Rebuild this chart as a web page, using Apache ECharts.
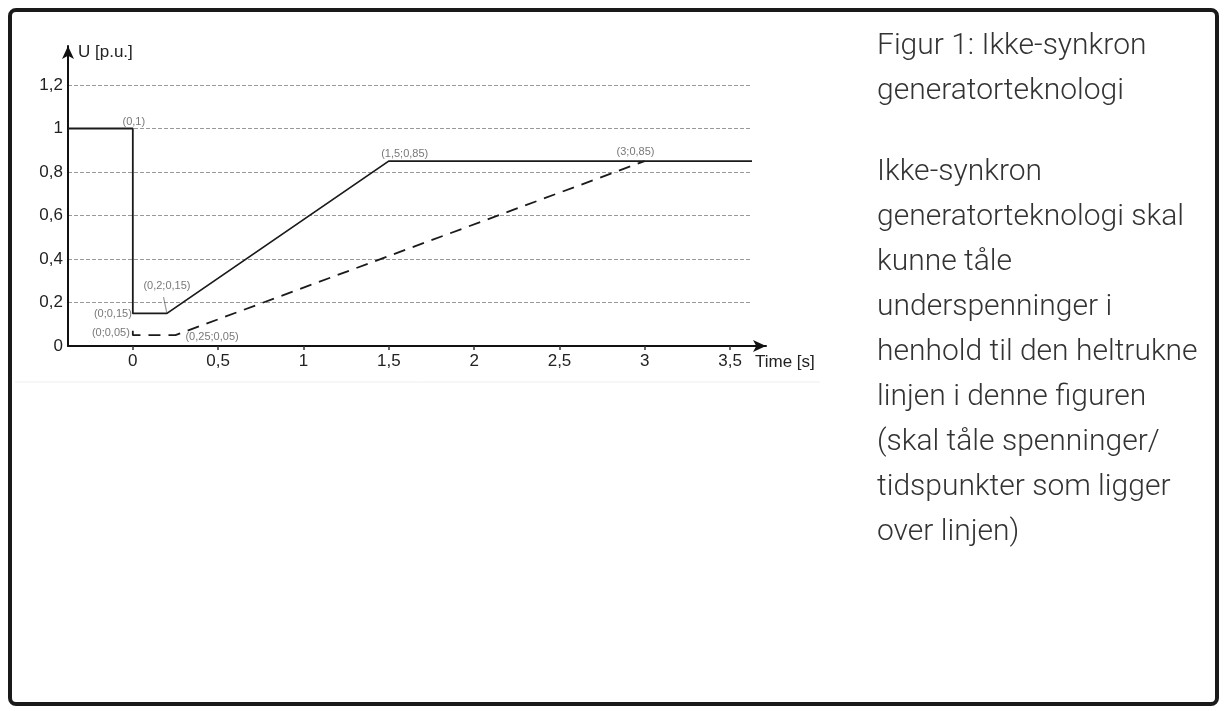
<!DOCTYPE html>
<html>
<head>
<meta charset="utf-8">
<script src="https://cdn.jsdelivr.net/npm/echarts@6/dist/echarts.min.js"></script>
<style>
  html, body { margin: 0; padding: 0; background: #fff; }
  #chart { width: 1224px; height: 711px; }
</style>
</head>
<body>
<div id="chart"></div>
<script>
// tick labels
const xTicks = [0, 0.5, 1, 1.5, 2, 2.5, 3, 3.5]
const yTicks = [0, 0.2, 0.4, 0.6, 0.8, 1, 1.2]

// solid curve (must tolerate) and dashed curve
const solidX = [-0.38, 0, 0, 0.2, 1.5, 3.63]
const solidY = [1, 1, 0.15, 0.15, 0.85, 0.85]
const dashX = [0, 0, 0.25, 3]
const dashY = [0.07, 0.05, 0.05, 0.85]

// point annotations
const noteX = [0, 1.5, 3, 0.2, 0, 0, 0.25]
const noteY = [1, 0.85, 0.85, 0.15, 0.15, 0.05, 0.05]
const noteText = ['(0,1)', '(1,5;0,85)', '(3;0,85)', '(0,2;0,15)', '(0;0,15)', '(0;0,05)', '(0,25;0,05)']

const titleLines = ['Figur 1: Ikke-synkron', 'generatorteknologi']
const bodyLines = [
  'Ikke-synkron',
  'generatorteknologi skal',
  'kunne tåle',
  'underspenninger i',
  'henhold til den heltrukne',
  'linjen i denne figuren',
  '(skal tåle spenninger/',
  'tidspunkter som ligger',
  'over linjen)'
]

const fmt = (v) => String(v).replace('.', ',')
const zip = (xs, ys) => xs.map((x, i) => [x, ys[i]])

// label placement for each annotation
const notePlace = [
  { position: 'top', distance: 1, offset: [1, 0] },
  { position: 'top', distance: 2, offset: [16, 0] },
  { position: 'top', distance: 4, offset: [-9, 0] },
  { position: 'top', distance: 22, offset: [0, 0] },
  { position: 'left', distance: 1, offset: [0, 1] },
  { position: 'left', distance: 3, offset: [0, -2] },
  { position: 'right', distance: 10, offset: [0, 2] }
]

const axisFont = 'Liberation Sans'
const textFont = '300 30px Roboto'
const chart = echarts.init(document.getElementById('chart'))
chart.setOption({
  animation: false,
  grid: [
    { left: 68, right: 472, top: 85, bottom: 365 },
    { left: 68, right: 458, top: 46, bottom: 365 }
  ],
  xAxis: [
    { gridIndex: 0, type: 'value', min: -0.38, max: 3.63, show: false },
    {
      gridIndex: 1,
      type: 'value',
      min: -0.38,
      max: 3.71,
      name: 'Time [s]',
      nameLocation: 'end',
      nameGap: -11,
      nameTextStyle: {
        fontFamily: axisFont,
        fontSize: 17,
        color: '#222',
        align: 'left',
        verticalAlign: 'top',
        padding: [8, 0, 0, 0]
      },
      axisLine: {
        onZero: false,
        lineStyle: { color: '#111', width: 2 },
        symbol: ['none', 'arrow'],
        symbolSize: [9, 13]
      },
      axisTick: { customValues: xTicks, length: 4, lineStyle: { color: '#333', width: 1.5 } },
      axisLabel: {
        customValues: xTicks,
        formatter: fmt,
        fontFamily: axisFont,
        fontSize: 17,
        color: '#222',
        margin: 7
      },
      splitLine: { show: false }
    }
  ],
  yAxis: [
    {
      gridIndex: 0,
      type: 'value',
      min: 0,
      max: 1.2,
      interval: 0.2,
      axisLine: { show: false },
      axisTick: { show: false },
      axisLabel: { show: false },
      splitLine: { lineStyle: { color: '#999', width: 1.2, type: [4, 2] } }
    },
    {
      gridIndex: 1,
      type: 'value',
      min: 0,
      max: 1.38,
      name: 'U [p.u.]',
      nameLocation: 'end',
      nameGap: -6,
      nameTextStyle: {
        fontFamily: axisFont,
        fontSize: 17,
        color: '#222',
        align: 'left',
        verticalAlign: 'middle',
        padding: [0, 0, 0, 10]
      },
      axisLine: {
        onZero: false,
        lineStyle: { color: '#111', width: 2 },
        symbol: ['none', 'arrow'],
        symbolSize: [9, 13]
      },
      axisTick: { show: false },
      axisLabel: {
        customValues: yTicks,
        formatter: fmt,
        fontFamily: axisFont,
        fontSize: 17,
        color: '#222',
        margin: 5
      },
      splitLine: { show: false }
    }
  ],
  series: [
    {
      type: 'line',
      xAxisIndex: 0,
      yAxisIndex: 0,
      data: zip(solidX, solidY),
      symbol: 'none',
      lineStyle: { color: '#1a1a1a', width: 1.8 },
      z: 3
    },
    {
      type: 'line',
      xAxisIndex: 0,
      yAxisIndex: 0,
      data: zip(dashX, dashY),
      symbol: 'none',
      lineStyle: { color: '#1a1a1a', width: 1.8, type: [12, 8] },
      z: 3
    },
    {
      type: 'scatter',
      xAxisIndex: 0,
      yAxisIndex: 0,
      symbolSize: 0,
      z: 4,
      data: noteX.map((x, i) => ({
        value: [x, noteY[i]],
        label: Object.assign({}, notePlace[i], { formatter: noteText[i] })
      })),
      label: {
        show: true,
        fontFamily: axisFont,
        fontSize: 11,
        color: '#555'
      }
    },
    {
      // short leader for the (0,2;0,15) note
      type: 'lines',
      coordinateSystem: 'cartesian2d',
      xAxisIndex: 0,
      yAxisIndex: 0,
      data: [{ coords: [[noteX[3], noteY[3]], [noteX[3] - 0.02, noteY[3] + 0.075]] }],
      lineStyle: { color: '#333', width: 1.2 },
      z: 4
    }
  ],
  graphic: [
    {
      type: 'rect',
      shape: { x: 10, y: 10, width: 1207, height: 694, r: 6 },
      style: { fill: 'none', stroke: '#1a1a1a', lineWidth: 4 },
      silent: true
    },
    {
      type: 'line',
      shape: { x1: 15, y1: 382, x2: 820, y2: 382 },
      style: { stroke: '#eeeeee', lineWidth: 1 },
      silent: true
    },
    {
      type: 'text',
      x: 877,
      y: 24,
      style: {
        text: titleLines.join('\n'),
        font: textFont,
        lineHeight: 45,
        fill: '#333'
      }
    },
    {
      type: 'text',
      x: 877,
      y: 150,
      style: {
        text: bodyLines.join('\n'),
        font: textFont,
        lineHeight: 45,
        fill: '#333'
      }
    }
  ]
})
</script>
</body>
</html>
